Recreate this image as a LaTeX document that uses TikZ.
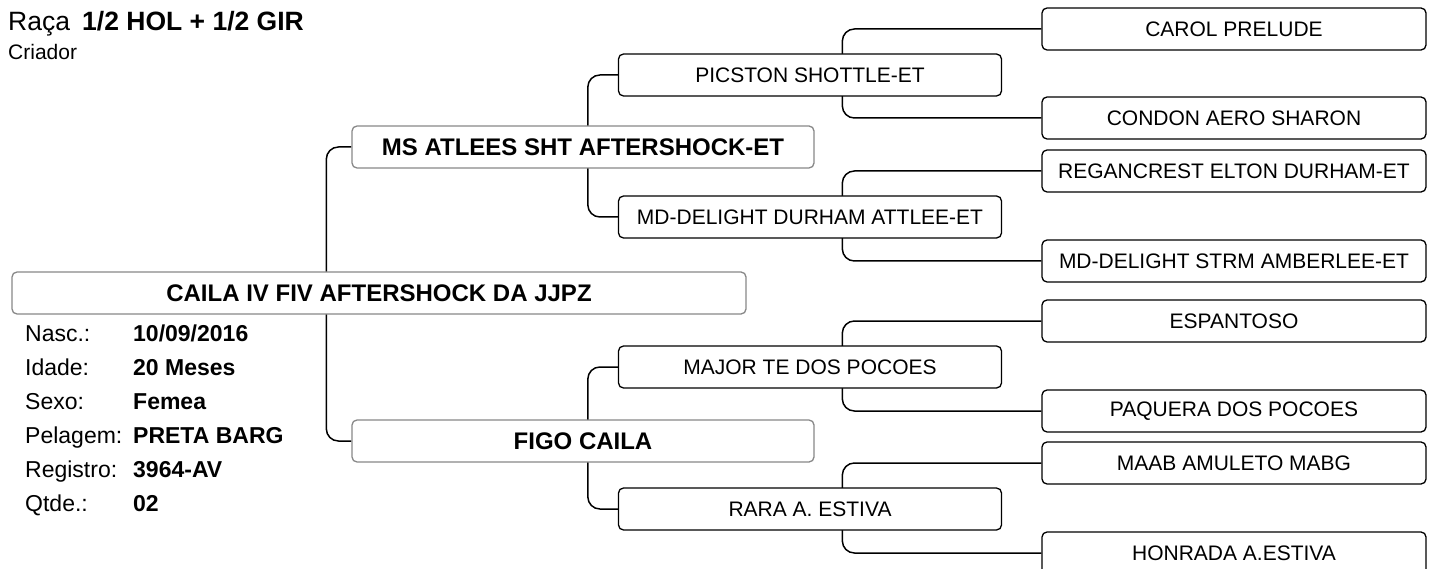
\documentclass[tikz,border=0pt]{standalone}
\usepackage{fontspec}
\setmainfont{Liberation Sans}
\usepackage{tikz}
\usetikzlibrary{backgrounds}
\definecolor{FrameGray}{RGB}{136,136,136}
\tikzset{
  animal/.style={draw=black,fill=white,rounded corners=5pt,line width=1.3pt,inner sep=0pt,
    minimum width=383pt,minimum height=42pt,font=\fontsize{21}{25}\selectfont},
  parent/.style={animal,draw=FrameGray,minimum width=462pt,font=\fontsize{24}{28}\selectfont\bfseries},
  link/.style={draw=black,line width=1.5pt,rounded corners=12pt},
}
\tikzset{lbl/.style={anchor=base west,inner sep=0pt,font=\fontsize{23}{27}\selectfont}, val/.style={lbl,font=\fontsize{23}{27}\selectfont\bfseries}}

\begin{document}
\begin{tikzpicture}[x=1pt,y=-1pt]
\useasboundingbox (0,0) rectangle (1434,569);
% header
\node[lbl,font=\fontsize{26.5}{30}\selectfont] (raca) at (8,31) {Raça};
\node[val,font=\fontsize{26.5}{30}\selectfont\bfseries] (breed) at (82,31) {1/2 HOL + 1/2 GIR};
\node[lbl,font=\fontsize{21}{25}\selectfont] (criador) at (8,60) {Criador};
% the animal
\node[parent,minimum width=734pt] (an) at (379,293) {CAILA IV FIV AFTERSHOCK DA JJPZ};
\node[lbl] (nasc) at (25,341) {Nasc.:};
\node[lbl] (idade) at (25,375) {Idade:};
\node[lbl] (sexo) at (25,409) {Sexo:};
\node[lbl] (pelagem) at (25,443) {Pelagem:};
\node[lbl] (registro) at (25,477) {Registro:};
\node[lbl] (qtde) at (25,511) {Qtde.:};
\node[val] (nascv) at (133,341) {10/09/2016};
\node[val] (idadev) at (133,375) {20 Meses};
\node[val] (sexov) at (133,409) {Femea};
\node[val] (pelagemv) at (133,443) {PRETA BARG};
\node[val] (registrov) at (133,477) {3964-AV};
\node[val] (qtdev) at (133,511) {02};
% parents
\node[parent] (s) at (583,147) {MS ATLEES SHT AFTERSHOCK-ET};
\node[parent] (d) at (583,441) {FIGO CAILA};
% grandparents
\node[animal] (ss) at (810,75) {PICSTON SHOTTLE-ET};
\node[animal] (sd) at (810,217) {MD-DELIGHT DURHAM ATTLEE-ET};
\node[animal] (ds) at (810,367) {MAJOR TE DOS POCOES};
\node[animal] (dd) at (810,509) {RARA A. ESTIVA};
% great-grandparents
\node[animal,minimum width=384pt] (sss) at (1234,29) {CAROL PRELUDE};
\node[animal,minimum width=384pt] (ssd) at (1234,118) {CONDON AERO SHARON};
\node[animal,minimum width=384pt] (sds) at (1234,171) {REGANCREST ELTON DURHAM-ET};
\node[animal,minimum width=384pt] (sdd) at (1234,261) {MD-DELIGHT STRM AMBERLEE-ET};
\node[animal,minimum width=384pt] (dss) at (1234,321) {ESPANTOSO};
\node[animal,minimum width=384pt] (dsd) at (1234,411) {PAQUERA DOS POCOES};
\node[animal,minimum width=384pt] (dds) at (1234,463) {MAAB AMULETO MABG};
\node[animal,minimum width=384pt] (ddd) at (1234,553) {HONRADA A.ESTIVA};
% connectors behind the boxes
\begin{pgfonlayer}{background}
\fill[white] (0,0) rectangle (1434,569);
\draw[link] (s.west) -- ++(-25,0) |- (d.west);
\draw[link] (ss.west) -- ++(-30,0) |- (sd.west);
\draw[link] (ds.west) -- ++(-30,0) |- (dd.west);
\draw[link] (sss.west) -- ++(-199,0) |- (ssd.west);
\draw[link] (sds.west) -- ++(-199,0) |- (sdd.west);
\draw[link] (dss.west) -- ++(-199,0) |- (dsd.west);
\draw[link] (dds.west) -- ++(-199,0) |- (ddd.west);
\end{pgfonlayer}
\end{tikzpicture}
\end{document}
